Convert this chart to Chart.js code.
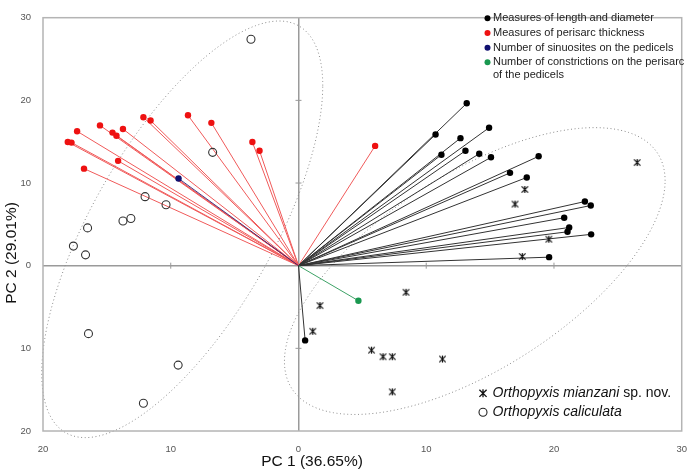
<!DOCTYPE html>
<html lang="en">
<head>
    <meta charset="UTF-8">
    <title>PCA biplot - Orthopyxis</title>
    <script src="https://cdn.jsdelivr.net/npm/chart.js"></script>
    <style>
        body { margin: 0; background: #fff; }
        #wrap { width: 700px; height: 476px; }
    </style>
</head>
<body>
    <div id="wrap"><canvas id="chart"></canvas></div>

    <script>
        // axis ticks (labels shown as absolute values)
        const axisTicks = [-20, -10, 0, 10, 20, 30];

        // loadings: measures of length and diameter
        const lengthX = [13.17, 10.73, 12.68, 14.92, 11.19, 13.07, 14.15, 15.07, 18.80, 16.56, 17.87, 22.42, 22.88, 20.80, 21.19, 21.06, 22.91, 19.62, 0.52];
        const lengthY = [19.65, 15.87, 15.43, 16.69, 13.42, 13.90, 13.54, 13.11, 13.23, 11.23, 10.67, 7.76, 7.28, 5.80, 4.62, 4.10, 3.79, 1.03, -9.04];

        // loadings: measures of perisarc thickness
        const thickX = [-17.33, -18.06, -17.77, -15.54, -14.56, -14.25, -13.74, -14.12, -16.79, -12.14, -11.58, -8.65, -6.82, -3.61, -3.05, 6.00];
        const thickY = [16.26, 14.96, 14.89, 16.97, 16.10, 15.71, 16.54, 12.68, 11.74, 17.96, 17.56, 18.19, 17.28, 14.96, 13.90, 14.49];

        // loadings: sinuosities and constrictions
        const sinuX = [-9.39];
        const sinuY = [10.55];
        const constrX = [4.69];
        const constrY = [-4.24];

        // specimen scores
        const mianzaniX = [26.51, 17.72, 16.95, 19.60, 17.52, 8.42, 5.72, 6.62, 7.34, 11.27, 7.34, 1.68, 1.12];
        const mianzaniY = [12.48, 9.22, 7.45, 3.20, 1.11, -3.22, -10.22, -11.01, -11.01, -11.29, -15.26, -4.83, -7.94];
        const caliculataX = [-3.72, -6.72, -12.01, -10.37, -13.74, -13.12, -16.51, -17.62, -16.67, -16.44, -9.42, -12.14];
        const caliculataY = [27.40, 13.71, 8.35, 7.37, 5.40, 5.71, 4.57, 2.37, 1.31, -8.22, -12.03, -16.64];

        // group ellipses: centre x, centre y, half extent x, half extent y, correlation
        const caliculataEllipse = [-9.1, 4.4, 11.0, 25.2, 0.69];
        const mianzaniEllipse = [13.8, -0.65, 14.9, 17.35, 0.63];

        // legends
        const variableLabels = ['Measures of length and diameter', 'Measures of perisarc thickness', 'Number of sinuosites on the pedicels', 'Number of constrictions on the perisarc', 'of the pedicels'];
        const variableColors = ['#000000', '#ee1111', '#101070', '#1a9850', null];
        const speciesNames = ['Orthopyxis mianzani', 'Orthopyxis caliculata'];
        const speciesSuffix = [' sp. nov.', ''];

        const FONT = '"Liberation Sans", Arial, sans-serif';

        function toPoints(xs, ys) {
            return xs.map((x, i) => ({ x: x, y: ys[i] }));
        }

        // origin -> loading segments, broken by gaps
        function toVectors(xs, ys) {
            const out = [];
            xs.forEach((x, i) => {
                out.push({ x: 0, y: 0 }, { x: x, y: ys[i] }, { x: null, y: null });
            });
            return out;
        }

        function drawAsterisk(ctx, cx, cy, r, lw) {
            ctx.save();
            ctx.strokeStyle = '#111';
            ctx.lineWidth = lw;
            ctx.beginPath();
            ctx.moveTo(cx - r, cy - r); ctx.lineTo(cx + r, cy + r);
            ctx.moveTo(cx + r, cy - r); ctx.lineTo(cx - r, cy + r);
            ctx.moveTo(cx, cy - r * 1.1); ctx.lineTo(cx, cy + r * 1.1);
            ctx.stroke();
            ctx.restore();
        }

        const starCanvas = document.createElement('canvas');
        starCanvas.width = 9;
        starCanvas.height = 9;
        drawAsterisk(starCanvas.getContext('2d'), 4.5, 4.5, 3.2, 1.2);

        const tipRadius = c => (c.raw && (c.raw.x || c.raw.y)) ? 3.2 : 0;

        function vectorSet(label, xs, ys, lineColor, dotColor) {
            return {
                label: label,
                data: toVectors(xs, ys),
                showLine: true,
                spanGaps: false,
                borderColor: lineColor,
                borderWidth: 1,
                pointRadius: tipRadius,
                pointHoverRadius: tipRadius,
                pointBackgroundColor: dotColor,
                pointBorderWidth: 0
            };
        }

        const biplotExtras = {
            id: 'biplotExtras',
            beforeDatasetsDraw(chart) {
                const { ctx, chartArea: a, scales: { x, y } } = chart;
                ctx.save();
                // ellipses
                ctx.strokeStyle = '#8a8a8a';
                ctx.lineWidth = 1;
                ctx.setLineDash([1, 2.6]);
                [caliculataEllipse, mianzaniEllipse].forEach(e => {
                    const [cx, cy, sx, sy, r] = e;
                    ctx.beginPath();
                    for (let k = 0; k <= 240; k++) {
                        const t = k / 240 * Math.PI * 2;
                        const dx = sx * Math.cos(t);
                        const dy = sy * (r * Math.cos(t) + Math.sqrt(1 - r * r) * Math.sin(t));
                        const px = x.getPixelForValue(cx + dx);
                        const py = y.getPixelForValue(cy + dy);
                        if (k === 0) ctx.moveTo(px, py); else ctx.lineTo(px, py);
                    }
                    ctx.stroke();
                });
                ctx.setLineDash([]);
                // small ticks along the zero lines
                ctx.strokeStyle = '#999';
                ctx.lineWidth = 1;
                const x0 = x.getPixelForValue(0), y0 = y.getPixelForValue(0);
                ctx.beginPath();
                x.ticks.forEach(t => {
                    if (t.value === 0 || t.value === x.min || t.value === x.max) return;
                    const px = x.getPixelForValue(t.value);
                    ctx.moveTo(px, y0 - 3); ctx.lineTo(px, y0 + 3);
                });
                y.ticks.forEach(t => {
                    if (t.value === 0 || t.value === y.min || t.value === y.max) return;
                    const py = y.getPixelForValue(t.value);
                    ctx.moveTo(x0 - 3, py); ctx.lineTo(x0 + 3, py);
                });
                ctx.stroke();
                // frame
                ctx.strokeStyle = '#b4b4b4';
                ctx.lineWidth = 1.5;
                ctx.strokeRect(a.left, a.top, a.right - a.left, a.bottom - a.top);
                ctx.restore();
            },
            afterDraw(chart) {
                const ctx = chart.ctx;
                ctx.save();
                // variable legend (top right)
                ctx.textBaseline = 'middle';
                ctx.font = '11px ' + FONT;
                const rows = [18.3, 33.1, 47.7, 62.3, 74.7];
                variableLabels.forEach((lab, i) => {
                    if (variableColors[i]) {
                        ctx.fillStyle = variableColors[i];
                        ctx.beginPath();
                        ctx.arc(487.5, rows[i], 3, 0, Math.PI * 2);
                        ctx.fill();
                    }
                    ctx.fillStyle = '#222';
                    ctx.fillText(lab, 493, rows[i]);
                });
                // species legend (bottom right)
                const srows = [393.3, 412.3];
                speciesNames.forEach((name, i) => {
                    if (i === 0) {
                        drawAsterisk(ctx, 483, srows[i], 3.6, 1.3);
                    } else {
                        ctx.strokeStyle = '#222';
                        ctx.lineWidth = 1.1;
                        ctx.beginPath();
                        ctx.arc(483, srows[i], 4, 0, Math.PI * 2);
                        ctx.stroke();
                    }
                    ctx.fillStyle = '#111';
                    ctx.font = 'italic 14px ' + FONT;
                    ctx.fillText(name, 492.5, srows[i]);
                    const w = ctx.measureText(name).width;
                    ctx.font = '14px ' + FONT;
                    ctx.fillText(speciesSuffix[i], 492.5 + w, srows[i]);
                });
                // axis titles
                ctx.fillStyle = '#111';
                ctx.font = '15.5px ' + FONT;
                ctx.textAlign = 'center';
                ctx.fillText('PC 1 (36.65%)', 312, 462);
                ctx.translate(11.5, 253);
                ctx.rotate(-Math.PI / 2);
                ctx.fillText('PC 2 (29.01%)', 0, 0);
                ctx.restore();
            }
        };

        const zeroGrid = {
            drawTicks: false,
            color: c => (c.tick && c.tick.value === 0) ? '#9a9a9a' : 'rgba(0,0,0,0)',
            lineWidth: 1.5
        };

        const tickFont = { family: FONT, size: 9.5 };

        new Chart(document.getElementById('chart'), {
            type: 'scatter',
            data: {
                datasets: [
                    {
                        label: 'Orthopyxis mianzani sp. nov.',
                        data: toPoints(mianzaniX, mianzaniY),
                        pointStyle: starCanvas,
                        pointRadius: 4.5
                    },
                    {
                        label: 'Orthopyxis caliculata',
                        data: toPoints(caliculataX, caliculataY),
                        pointStyle: 'circle',
                        pointRadius: 4,
                        backgroundColor: 'rgba(255,255,255,0)',
                        borderColor: '#333',
                        borderWidth: 1.1
                    },
                    vectorSet('Number of sinuosites on the pedicels', sinuX, sinuY, 'rgba(40,20,110,0.85)', '#101070'),
                    vectorSet('Number of constrictions on the perisarc of the pedicels', constrX, constrY, '#3da266', '#1a9850'),
                    vectorSet('Measures of length and diameter', lengthX, lengthY, '#333333', '#000000'),
                    vectorSet('Measures of perisarc thickness', thickX, thickY, '#f05a5a', '#ee1111')
                ]
            },
            options: {
                responsive: true,
                maintainAspectRatio: false,
                animation: false,
                layout: { padding: { left: 0, right: 8, top: 7, bottom: 0 } },
                plugins: {
                    legend: { display: false },
                    tooltip: { enabled: false }
                },
                scales: {
                    x: {
                        type: 'linear',
                        min: -20,
                        max: 30,
                        afterBuildTicks: s => { s.ticks = axisTicks.map(v => ({ value: v })); },
                        afterFit: s => { s.height = 45; },
                        grid: zeroGrid,
                        border: { display: false },
                        ticks: {
                            padding: 13,
                            color: '#555',
                            font: tickFont,
                            maxRotation: 0,
                            callback: v => String(Math.abs(v))
                        }
                    },
                    y: {
                        type: 'linear',
                        min: -20,
                        max: 30,
                        afterBuildTicks: s => { s.ticks = axisTicks.map(v => ({ value: v })); },
                        afterFit: s => { s.width = 43; },
                        grid: zeroGrid,
                        border: { display: false },
                        ticks: {
                            padding: 12,
                            color: '#555',
                            font: tickFont,
                            callback: v => String(Math.abs(v))
                        }
                    }
                }
            },
            plugins: [biplotExtras]
        });
    </script>
</body>
</html>
